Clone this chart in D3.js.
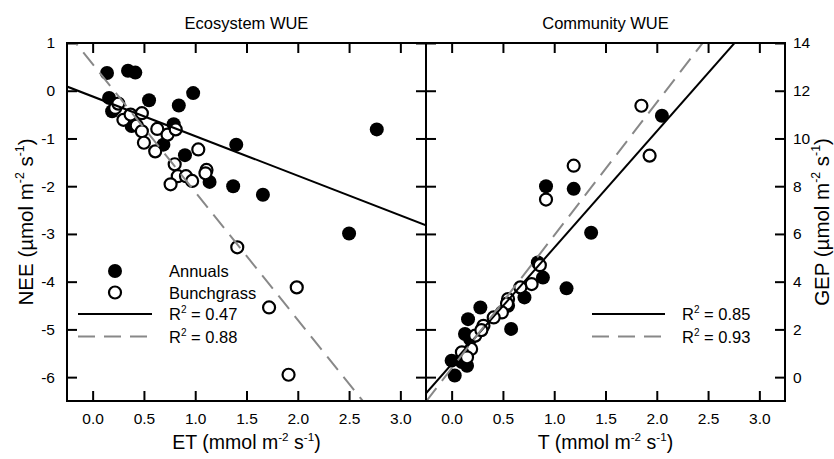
<!DOCTYPE html>
<html>
<head>
<meta charset="utf-8">
<script src="https://cdn.jsdelivr.net/npm/d3@7"></script>
<style>
  body { margin: 0; background: #fff; }
  text { font-family: "Liberation Sans", Arial, sans-serif; fill: #000; }
</style>
</head>
<body>
<div id="chart"></div>
<script>
// ET vs NEE (left panel)
const ecoAnnuals = [
  [0.14, 0.37], [0.345, 0.42], [0.416, 0.38], [0.16, -0.15], [0.19, -0.43],
  [0.55, -0.2], [0.84, -0.31], [0.98, -0.05], [0.38, -0.74], [0.79, -0.70],
  [0.69, -1.13], [0.90, -1.35], [1.40, -1.13], [1.14, -1.91], [1.37, -2.0],
  [1.66, -2.18], [2.77, -0.81], [2.50, -2.99]
];
const ecoBunch = [
  [0.22, -0.36], [0.25, -0.27], [0.30, -0.61], [0.37, -0.5], [0.48, -0.47],
  [0.43, -0.73], [0.48, -0.85], [0.50, -1.09], [0.61, -1.27], [0.63, -0.80],
  [0.73, -0.92], [0.81, -0.81], [1.03, -1.23], [0.80, -1.54], [0.83, -1.79],
  [0.76, -1.96], [0.91, -1.79], [0.97, -1.89], [1.11, -1.66], [1.10, -1.73],
  [1.41, -3.28], [1.99, -4.12], [1.72, -4.54], [1.91, -5.95]
];
// T vs GEP (right panel)
const comAnnuals = [
  [0.92, 8.0], [1.19, 7.89], [2.05, 10.95], [1.36, 6.05], [1.12, 3.72],
  [0.58, 2.02], [0.89, 4.17], [0.71, 3.34], [0.28, 2.92], [0.16, 2.43],
  [0.13, 1.81], [0.0, 0.69], [0.03, 0.07], [0.15, 0.48], [0.84, 4.80],
  [0.55, 2.99], [0.10, 0.63], [0.18, 1.6]
];
const comBunch = [
  [1.85, 11.37], [1.19, 8.86], [0.92, 7.44], [1.93, 9.28], [0.86, 4.69],
  [0.78, 3.90], [0.67, 3.76], [0.55, 3.27], [0.54, 3.08], [0.49, 2.71],
  [0.41, 2.5], [0.31, 2.15], [0.23, 1.74], [0.19, 1.18], [0.10, 1.04],
  [0.15, 0.83], [0.29, 1.97]
];
// regression lines: [intercept, slope]
const ecoFits = [[-0.12, -0.83], [0.56, -2.68]];
const comFits = [[0.54, 4.88], [0.37, 5.57]];
const ecoR2 = ["0.47", "0.88"];
const comR2 = ["0.85", "0.93"];
const seriesNames = ["Annuals", "Bunchgrass"];
const xTicks = [0, 0.5, 1, 1.5, 2, 2.5, 3];
const neeTicks = [-6, -5, -4, -3, -2, -1, 0, 1];
const gepTicks = [0, 2, 4, 6, 8, 10, 12, 14];

const W = 834, H = 459;
const plotTop = 43, plotBottom = 401;
const p1 = [67, 426], p2 = [426, 785];

const svg = d3.select("#chart").append("svg")
  .attr("width", W).attr("height", H);

const x1 = d3.scaleLinear().domain([-0.25, 3.25]).range(p1);
const x2 = d3.scaleLinear().domain([-0.25, 3.25]).range(p2);
const yL = d3.scaleLinear().domain([-6.5, 1]).range([plotBottom, plotTop]);
const yR = d3.scaleLinear().domain([-1, 14]).range([plotBottom, plotTop]);

const fmtX = d3.format(".1f");
const fmtY = d => String(d);   // plain hyphen, like the original

function styleAxis(g) {
  g.select(".domain").remove();
  g.selectAll(".tick line").attr("stroke", "#000").attr("stroke-width", 2);
  g.selectAll(".tick text").attr("font-size", 15.5).attr("font-family", "Liberation Sans, Arial, sans-serif");
}

function panel(x, y, yTicks, labelLeft, annuals, bunch, fits, r2, legendPos, showPts, title, xTitle) {
  const [x0, x1r] = x.range();
  const id = "clip" + Math.round(x0);
  svg.append("clipPath").attr("id", id)
    .append("rect").attr("x", x0).attr("y", plotTop).attr("width", x1r - x0).attr("height", plotBottom - plotTop);

  // axes, ticks inward on every side
  svg.append("g").attr("transform", `translate(0,${plotBottom})`)
    .call(d3.axisBottom(x).tickValues(xTicks).tickFormat(fmtX).tickSizeInner(-10).tickPadding(12))
    .call(styleAxis);
  svg.append("g").attr("transform", `translate(0,${plotTop})`)
    .call(d3.axisTop(x).tickValues(xTicks).tickFormat("").tickSizeInner(-10))
    .call(styleAxis);
  if (labelLeft) {
    svg.append("g").attr("transform", `translate(${x0},0)`)
      .call(d3.axisLeft(y).tickValues(yTicks).tickFormat(fmtY).tickSizeInner(-10).tickPadding(12))
      .call(styleAxis);
    svg.append("g").attr("transform", `translate(${x1r},0)`)
      .call(d3.axisRight(y).tickValues(yTicks).tickFormat("").tickSizeInner(-10))
      .call(styleAxis);
  } else {
    svg.append("g").attr("transform", `translate(${x0},0)`)
      .call(d3.axisLeft(y).tickValues(yTicks).tickFormat("").tickSizeInner(-10))
      .call(styleAxis);
    svg.append("g").attr("transform", `translate(${x1r},0)`)
      .call(d3.axisRight(y).tickValues(yTicks).tickFormat(fmtY).tickSizeInner(-10).tickPadding(8))
      .call(styleAxis);
  }

  const plot = svg.append("g");

  // points
  plot.selectAll(".ann").data(annuals).enter().append("circle")
    .attr("cx", d => x(d[0])).attr("cy", d => y(d[1])).attr("r", 7)
    .attr("fill", "#000");
  plot.selectAll(".bun").data(bunch).enter().append("circle")
    .attr("cx", d => x(d[0])).attr("cy", d => y(d[1])).attr("r", 6)
    .attr("fill", "#fff").attr("stroke", "#000").attr("stroke-width", 2.2);

  // fit lines
  const dom = x.domain();
  const lines = svg.append("g").attr("clip-path", `url(#${id})`);
  fits.forEach((f, i) => {
    lines.append("line")
      .attr("x1", x(dom[0])).attr("y1", y(f[0] + f[1] * dom[0]))
      .attr("x2", x(dom[1])).attr("y2", y(f[0] + f[1] * dom[1]))
      .attr("stroke", i === 0 ? "#000" : "#888")
      .attr("stroke-width", 2)
      .attr("stroke-dasharray", i === 0 ? null : "17,9");
  });

  // frame
  svg.append("rect").attr("x", x0).attr("y", plotTop)
    .attr("width", x1r - x0).attr("height", plotBottom - plotTop)
    .attr("fill", "none").attr("stroke", "#000").attr("stroke-width", 2);

  // legend
  const lg = svg.append("g").attr("font-size", 16.5);
  let ly = legendPos.y;
  if (showPts) {
    seriesNames.forEach((s, i) => {
      const c = lg.append("circle").attr("cx", legendPos.mx).attr("cy", ly - 6).attr("r", i ? 6 : 7);
      if (i) c.attr("fill", "#fff").attr("stroke", "#000").attr("stroke-width", 2.2);
      else c.attr("fill", "#000");
      lg.append("text").attr("x", legendPos.tx).attr("y", ly).text(s);
      ly += 21.5;
    });
  }
  r2.forEach((r, i) => {
    lg.append("line").attr("x1", legendPos.lx0).attr("x2", legendPos.lx1)
      .attr("y1", ly - 6).attr("y2", ly - 6)
      .attr("stroke", i === 0 ? "#000" : "#888").attr("stroke-width", 2)
      .attr("stroke-dasharray", i === 0 ? null : "17,9");
    const t = lg.append("text").attr("x", legendPos.tx).attr("y", ly);
    t.append("tspan").text("R");
    t.append("tspan").attr("font-size", 10).attr("dy", -7).text("2");
    t.append("tspan").attr("dy", 7).text(" = " + r);
    ly += 22.5;
  });

  // titles
  const cx = (x0 + x1r) / 2;
  svg.append("text").attr("x", cx).attr("y", 29).attr("text-anchor", "middle")
    .attr("font-size", 16.5).text(title);
  const xt = svg.append("text").attr("x", cx).attr("y", 449).attr("text-anchor", "middle")
    .attr("font-size", 19.5);
  unitText(xt, xTitle + " (mmol m", ")");
}

// unit string with two superscripts; shifts are in px so they cancel exactly
function unitText(t, pre, post) {
  const fs = +t.attr("font-size");
  const up = fs * 0.42, small = fs * 0.6;
  t.append("tspan").text(pre);
  t.append("tspan").attr("font-size", small).attr("dy", -up).text("-2");
  t.append("tspan").attr("dy", up).text(" s");
  t.append("tspan").attr("font-size", small).attr("dy", -up).text("-1");
  t.append("tspan").attr("dy", up).text(post);
}

panel(x1, yL, neeTicks, true, ecoAnnuals, ecoBunch, ecoFits, ecoR2,
  { y: 277, mx: 115, tx: 169, lx0: 78, lx1: 152 }, true, "Ecosystem WUE", "ET");
panel(x2, yR, gepTicks, false, comAnnuals, comBunch, comFits, comR2,
  { y: 320, mx: 0, tx: 682, lx0: 592, lx1: 665 }, false, "Community WUE", "T");

// y axis titles
const midY = (plotTop + plotBottom) / 2;
const yl = svg.append("text").attr("transform", `translate(33,${midY}) rotate(-90)`)
  .attr("text-anchor", "middle").attr("font-size", 20.5);
unitText(yl, "NEE (\u00b5mol m", ")");
const yr = svg.append("text").attr("transform", `translate(829,${midY}) rotate(-90)`)
  .attr("text-anchor", "middle").attr("font-size", 20.5);
unitText(yr, "GEP (\u00b5mol m", ")");
</script>
</body>
</html>
